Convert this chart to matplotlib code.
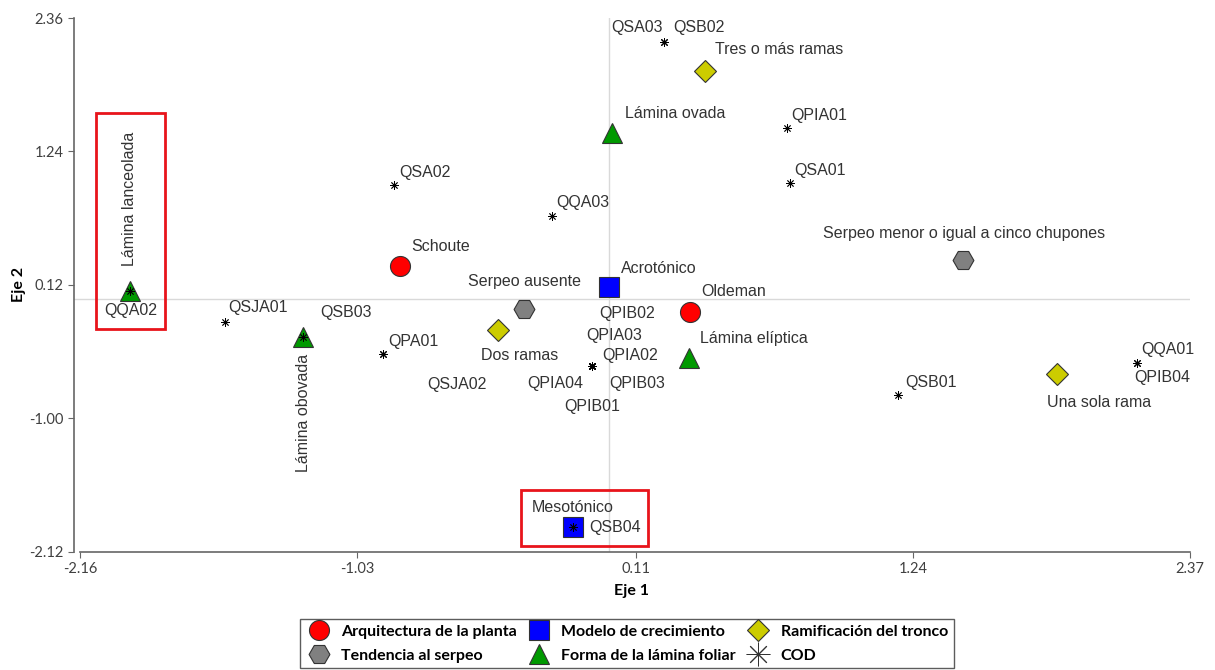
import matplotlib.pyplot as plt
from matplotlib.lines import Line2D
from matplotlib.patches import Rectangle

plt.rcParams['font.family'] = ['Liberation Sans', 'DejaVu Sans']

# COD points (asterisks)
cod_names = ['QQA02', 'QSJA01', 'QSB03', 'QPA01', 'QSJA02', 'QSA02', 'QQA03',
             'QSA03', 'QSB02', 'QPIA01', 'QSA01', 'QPIB02', 'QPIA03', 'QPIA02',
             'QPIA04', 'QPIB03', 'QPIB01', 'QSB01', 'QQA01', 'QPIB04', 'QSB04']
cod_x = [-1.954, -1.568, -1.248, -0.925, -0.925, -0.880, -0.235,
         0.223, 0.223, 0.726, 0.739, -0.070, -0.070, -0.070,
         -0.070, -0.070, -0.070, 1.179, 2.153, 2.153, -0.149]
cod_y = [0.068, -0.197, -0.321, -0.458, -0.458, 0.957, 0.696,
         2.156, 2.156, 1.433, 0.973, -0.564, -0.564, -0.564,
         -0.564, -0.564, -0.564, -0.808, -0.537, -0.537, -1.915]
# label offsets in pixels from each point
cod_off = [(0, -20), (33, 15), (43, 25), (31, 12), (74, -31), (31, 13), (31, 14),
           (-27, 15), (35, 15), (32, 13), (30, 13), (35, 53), (22, 31), (38, 11),
           (-37, -17), (45, -17), (0, -40), (33, 13), (31, 13), (25, -15), (42, 0)]

# category points
arq_names = ['Schoute', 'Oldeman']
arq_x = [-0.853, 0.328]
arq_y = [0.276, -0.108]

mod_names = ['Acrotónico', 'Mesotónico']
mod_x = [0.000, -0.149]
mod_y = [0.097, -1.915]

ram_names = ['Tres o más ramas', 'Dos ramas', 'Una sola rama']
ram_x = [0.392, -0.454, 1.827]
ram_y = [1.917, -0.256, -0.632]

serp_names = ['Serpeo ausente', 'Serpeo menor o igual a cinco chupones']
serp_x = [-0.348, 1.443]
serp_y = [-0.080, 0.332]

lam_names = ['Lámina lanceolada', 'Lámina obovada', 'Lámina ovada', 'Lámina elíptica']
lam_x = [-1.954, -1.248, 0.011, 0.324]
lam_y = [0.068, -0.321, 1.391, -0.491]

xticks = [-2.16, -1.03, 0.11, 1.24, 2.37]
yticks = [-2.12, -1.00, 0.12, 1.24, 2.36]

fig = plt.figure(figsize=(12.15, 6.7), dpi=100)
ax = fig.add_axes([74 / 1215, 118.5 / 670, 1116 / 1215, 533.5 / 670])
ax.set_xlim(-2.1844, 2.37)
ax.set_ylim(-2.12, 2.36)

ax.axhline(0, color='#d9d9d9', lw=1, zorder=0)
ax.axvline(0, color='#d9d9d9', lw=1, zorder=0)

edge = '#333333'
groups = [
    (arq_x, arq_y, 'o', '#ff0000', 14.4, 'Arquitectura de la planta'),
    (serp_x, serp_y, 'H', '#808080', 15, 'Tendencia al serpeo'),
    (mod_x, mod_y, 's', '#0000ff', 14.4, 'Modelo de crecimiento'),
    (lam_x, lam_y, '^', '#009900', 15, 'Forma de la lámina foliar'),
    (ram_x, ram_y, 'D', '#cccc00', 10.7, 'Ramificación del tronco'),
]
handles = []
for gx, gy, m, c, ms, lab in groups:
    ax.plot(gx, gy, ls='none', marker=m, ms=ms, mfc=c, mec=edge, mew=0.8,
            zorder=3, clip_on=False)
    handles.append(Line2D([], [], ls='none', marker=m, ms=ms, mfc=c,
                          mec=edge, mew=0.8, label=lab))

ax.plot(cod_x, cod_y, ls='none', marker=(8, 2, 0), ms=6, mec='black',
        mew=0.6, zorder=4, clip_on=False)
handles.append(Line2D([], [], ls='none', marker=(8, 2, 0), ms=17, mec='#333333',
                      mew=0.7, label='COD'))

txt = dict(fontsize=11.5, color='#333333', ha='center', va='center',
           textcoords='offset pixels')
for n, x, y, off in zip(cod_names, cod_x, cod_y, cod_off):
    ax.annotate(n, (x, y), xytext=off, **txt)

cat_off = {
    'Schoute': (40, 20), 'Oldeman': (44, 20),
    'Acrotónico': (50, 19), 'Mesotónico': (0, 20),
    'Tres o más ramas': (74, 21), 'Dos ramas': (22, -26), 'Una sola rama': (42, -28),
    'Serpeo ausente': (1, 27), 'Serpeo menor o igual a cinco chupones': (1, 26),
    'Lámina ovada': (63, 20), 'Lámina elíptica': (65, 19),
}
for names, xs, ys in [(arq_names, arq_x, arq_y), (mod_names, mod_x, mod_y),
                      (ram_names, ram_x, ram_y), (serp_names, serp_x, serp_y),
                      (lam_names, lam_x, lam_y)]:
    for n, x, y in zip(names, xs, ys):
        if n in cat_off:
            ax.annotate(n, (x, y), xytext=cat_off[n], **txt)

# vertical labels for the two leaf shapes on the left
ax.annotate(lam_names[0], (lam_x[0], lam_y[0]), xytext=(-1, 92), rotation=90, **txt)
ax.annotate(lam_names[1], (lam_x[1], lam_y[1]), xytext=(0, -76), rotation=90, **txt)

# highlight boxes
ax.add_patch(Rectangle((-2.095, -0.253), 0.281, 1.815, fill=False,
                       ec='#e8141b', lw=2, zorder=5, clip_on=False))
ax.add_patch(Rectangle((-0.360, -2.077), 0.517, 0.471, fill=False,
                       ec='#e8141b', lw=2, zorder=5, clip_on=False))

for s in ['top', 'right']:
    ax.spines[s].set_visible(False)
for s in ['left', 'bottom']:
    ax.spines[s].set_color('#666666')
    ax.spines[s].set_linewidth(1.2)
ax.spines['bottom'].set_bounds(-2.16, 2.37)
ax.set_xticks(xticks)
ax.set_yticks(yticks)
ax.set_xticklabels([f'{v:.2f}' for v in xticks])
ax.set_yticklabels([f'{v:.2f}' for v in yticks])
ax.tick_params(length=4, color='#666666', labelcolor='#404040', labelsize=10.5)
for lbl in ax.get_xticklabels() + ax.get_yticklabels():
    lbl.set_family('Lato')
ax.set_xlabel('Eje 1', family='Lato', weight='bold', fontsize=11.5, labelpad=6)
ax.set_ylabel('Eje 2', family='Lato', weight='bold', fontsize=11.5, labelpad=2)

leg = fig.legend(handles=handles, ncol=3, loc='lower center',
                 bbox_to_anchor=(0.516, 0.0), frameon=True, fancybox=False,
                 prop={'family': 'Lato', 'weight': 'bold', 'size': 11.5},
                 handletextpad=0.6, columnspacing=0.6, borderpad=0.35,
                 labelspacing=0.6, handlelength=1.6, borderaxespad=0.1)
leg.get_frame().set_edgecolor('#333333')
leg.get_frame().set_linewidth(1.0)

fig.savefig('out.png', dpi=100, facecolor='white')
